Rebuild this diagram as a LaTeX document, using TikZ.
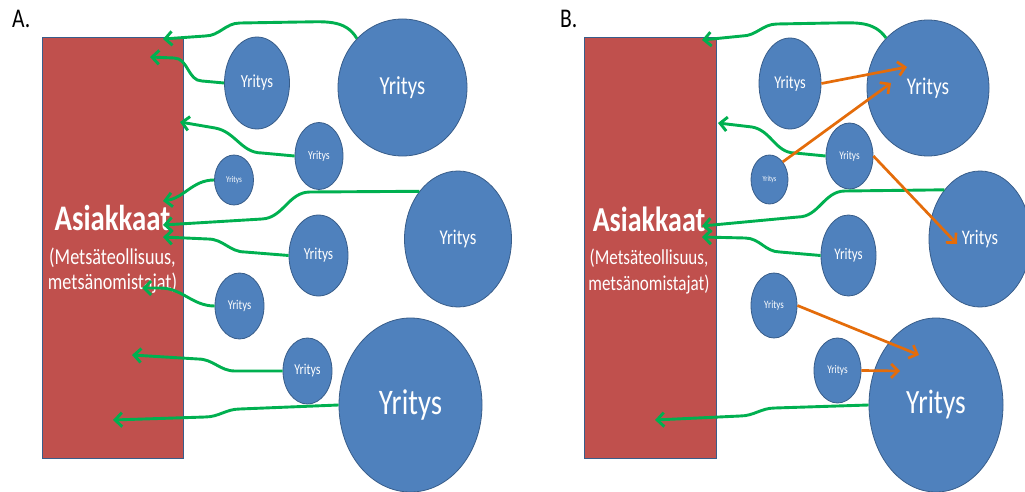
\documentclass[tikz,border=0pt]{standalone}
\usepackage{fontspec}
\setmainfont{Carlito}
\usepackage{graphicx}
\usetikzlibrary{shapes.geometric,arrows.meta}

\definecolor{rectred}{RGB}{192,80,77}
\definecolor{circblue}{RGB}{79,129,189}
\definecolor{edgeblue}{RGB}{56,93,138}
\definecolor{flowgreen}{RGB}{0,176,80}
\definecolor{floworange}{RGB}{228,108,10}

% narrow (condensed) set for all labels
\newcommand\narrow[1]{\scalebox{0.8}[1]{#1}}
\newcommand\fsz[1]{\fontsize{#1}{#1}\selectfont}

\begin{document}
\begin{tikzpicture}[x=1pt,y=1pt,
  firm/.style={ellipse, fill=circblue, draw=edgeblue, line width=0.8pt,
    inner sep=0pt, text=white},
  customers/.style={rectangle, fill=rectred, draw=edgeblue, line width=0.6pt,
    anchor=north west, inner sep=0pt},
  custtext/.style={anchor=base, text=white, inner sep=0pt},
  gflow/.style={flowgreen, line width=2.9pt,
    -{Straight Barb[length=7pt,width=14pt]}},
  oflow/.style={floworange, line width=2.7pt,
    -{Straight Barb[length=7pt,width=14pt]}},
  panel/.style={anchor=base west, inner sep=0pt, font=\fsz{27}}]

\clip (0,0) rectangle (1025,-492);
\fill[white] (0,0) rectangle (1025,-492);

% ---------------- panel A ----------------
\node[panel] (labA) at (12,-28) {\narrow{A.}};
\node[customers, minimum width=141pt, minimum height=421pt] (custA) at (42,-37) {};
\node[custtext, font=\bfseries\fsz{36}] (custA1) at (112.5,-230) {\narrow{Asiakkaat}};
\node[custtext, font=\fsz{22.7}] (custA2) at (112.5,-264) {\narrow{(Metsäteollisuus,}};
\node[custtext, font=\fsz{22.7}] (custA3) at (112.5,-289) {\narrow{metsänomistajat)}};

\node[firm, minimum width=65pt,  minimum height=92pt,  font=\fsz{18.4}] (c1) at (257,-83)     {\narrow{Yritys}};
\node[firm, minimum width=129pt, minimum height=137pt, font=\fsz{26}]   (c2) at (402.5,-87.5) {\narrow{Yritys}};
\node[firm, minimum width=48pt,  minimum height=67pt,  font=\fsz{12.3}] (c3) at (319,-156)    {\narrow{Yritys}};
\node[firm, minimum width=39pt,  minimum height=50pt,  font=\fsz{8.9}]  (c4) at (234,-180)    {\narrow{Yritys}};
\node[firm, minimum width=107pt, minimum height=136pt, font=\fsz{21}]   (c5) at (458,-239)    {\narrow{Yritys}};
\node[firm, minimum width=59pt,  minimum height=81pt,  font=\fsz{16.8}] (c6) at (318.5,-255.5){\narrow{Yritys}};
\node[firm, minimum width=49pt,  minimum height=66pt,  font=\fsz{13.4}] (c7) at (239.5,-306)  {\narrow{Yritys}};
\node[firm, minimum width=49pt,  minimum height=66pt,  font=\fsz{15}]   (c8) at (307.5,-371)  {\narrow{Yritys}};
\node[firm, minimum width=143pt, minimum height=174pt, font=\fsz{36}]   (c9) at (410.5,-405)  {\narrow{Yritys}};

\coordinate (tA1) at (163,-39);
\coordinate (tA2) at (150,-57);
\coordinate (tA3) at (180,-122);
\coordinate (tA4) at (163,-201);
\coordinate (tA5) at (163,-225);
\coordinate (tA6) at (163,-237);
\coordinate (tA7) at (142,-288);
\coordinate (tA8) at (132,-355);
\coordinate (tA9) at (113,-420);

\draw[gflow] (c2.133) to[out=120,in=0] (300,-22) -- (240,-23)
  to[out=180,in=0] (205,-36) -- (tA1);
\draw[gflow] (c1.west) -- (202,-81) to[out=180,in=0] (174,-58) -- (tA2);
\draw[gflow] (c3.west) -- (262,-153) to[out=180,in=-10] (215,-128) -- (tA3);
\draw[gflow] (c4.west) to[out=180,in=8] (tA4);
\draw[gflow] (c5.129) -- (310,-192) to[out=180,in=3] (262,-219) -- (tA5);
\draw[gflow] (c6.west) -- (245,-252) to[out=180,in=0] (208,-239) -- (tA6);
\draw[gflow] (c7.west) to[out=180,in=0] (160,-288) -- (tA7);
\draw[gflow] (c8.west) -- (235,-371) to[out=180,in=0] (198,-359) -- (tA8);
\draw[gflow] (c9.west) -- (240,-409) to[out=180,in=0] (205,-417) -- (tA9);

% ---------------- panel B ----------------
\node[panel] (labB) at (560,-28) {\narrow{B.}};
\node[customers, minimum width=132pt, minimum height=421pt] (custB) at (584,-37) {};
\node[custtext, font=\bfseries\fsz{35}] (custB1) at (649,-231) {\narrow{Asiakkaat}};
\node[custtext, font=\fsz{21.3}] (custB2) at (649,-264) {\narrow{(Metsäteollisuus,}};
\node[custtext, font=\fsz{21.3}] (custB3) at (649,-290) {\narrow{metsänomistajat)}};

\node[firm, minimum width=62pt,  minimum height=91pt,  font=\fsz{18}]   (b1) at (790,-83.5)   {\narrow{Yritys}};
\node[firm, minimum width=122pt, minimum height=136pt, font=\fsz{24}]   (b2) at (928,-88)     {\narrow{Yritys}};
\node[firm, minimum width=47pt,  minimum height=66pt,  font=\fsz{11.7}] (b3) at (849.5,-156)  {\narrow{Yritys}};
\node[firm, minimum width=37pt,  minimum height=49pt,  font=\fsz{7.8}]  (b4) at (769.5,-179.5){\narrow{Yritys}};
\node[firm, minimum width=102pt, minimum height=136pt, font=\fsz{20.7}] (b5) at (980,-239)    {\narrow{Yritys}};
\node[firm, minimum width=55pt,  minimum height=81pt,  font=\fsz{16.2}] (b6) at (848.5,-255.5){\narrow{Yritys}};
\node[firm, minimum width=46pt,  minimum height=65pt,  font=\fsz{11.2}] (b7) at (774,-305.5)  {\narrow{Yritys}};
\node[firm, minimum width=47pt,  minimum height=65pt,  font=\fsz{11.7}] (b8) at (837.5,-370.5){\narrow{Yritys}};
\node[firm, minimum width=134pt, minimum height=174pt, font=\fsz{34}]   (b9) at (936,-405)    {\narrow{Yritys}};

\coordinate (tB1) at (702,-40);
\coordinate (tB2) at (718,-123);
\coordinate (tB3) at (702,-226);
\coordinate (tB4) at (702,-237);
\coordinate (tB5) at (655,-420);

\draw[gflow] (b2.130) to[out=125,in=0] (832,-23) -- (777,-24)
  to[out=180,in=0] (742,-36) -- (tB1);
\draw[gflow] (b3.west) -- (795,-153) to[out=180,in=-10] (752,-127) -- (tB2);
\draw[gflow] (b5.126) -- (845,-191) to[out=180,in=0] (798,-217) -- (tB3);
\draw[gflow] (b6.west) -- (780,-252) to[out=180,in=0] (745,-238) -- (tB4);
\draw[gflow] (b9.west) -- (775,-408) to[out=180,in=0] (740,-416) -- (tB5);

% flows between firms
\coordinate (tO1) at (907,-67);
\coordinate (tO2) at (891,-83);
\coordinate (tO3) at (957,-244);
\coordinate (tO4) at (919,-355);
\coordinate (tO5) at (900,-371);

\draw[oflow] (b1.east) -- (tO1);
\draw[oflow] (b4.53) -- (tO2);
\draw[oflow] (b3.east) -- (tO3);
\draw[oflow] (b7.east) -- (tO4);
\draw[oflow] (b8.east) -- (tO5);

\end{tikzpicture}
\end{document}
